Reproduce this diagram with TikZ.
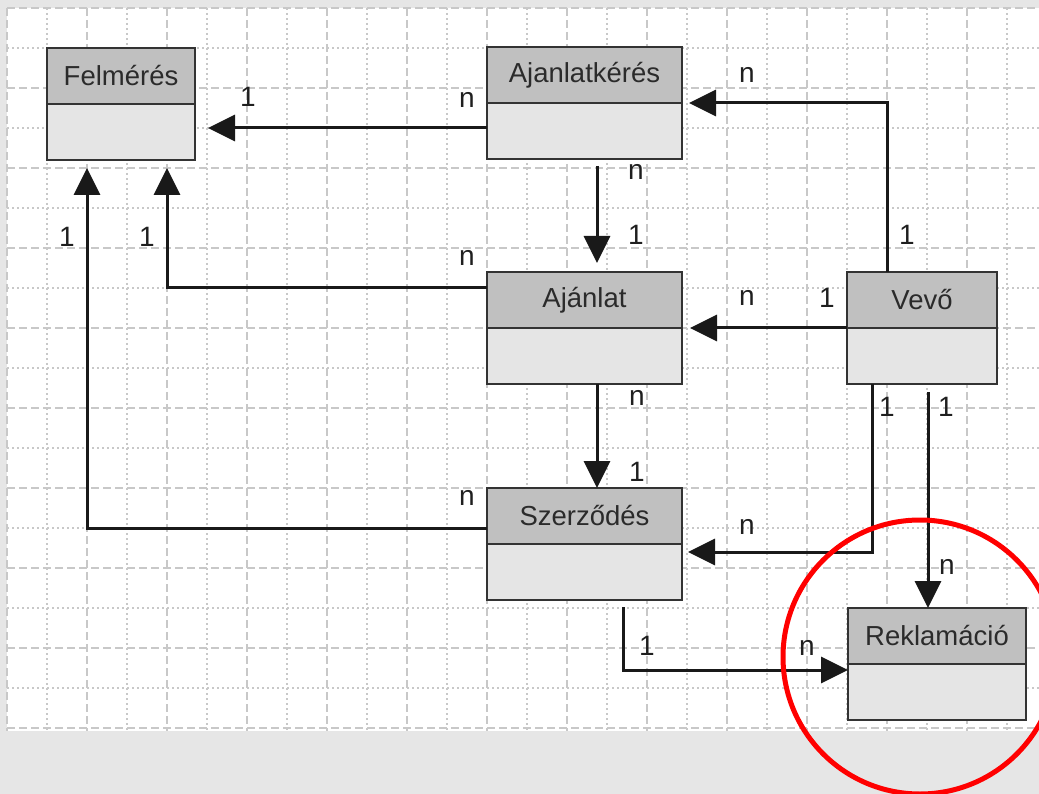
\documentclass[tikz,border=0pt]{standalone}
\usepackage{fontspec}
\setmainfont{Liberation Sans}
\usepackage{xcolor}
\usetikzlibrary{positioning,arrows.meta}

\definecolor{pagegray}{HTML}{E6E6E6}
\definecolor{gridgray}{HTML}{C8C8C8}
\definecolor{hdrgray}{HTML}{C0C0C0}
\definecolor{bodygray}{HTML}{E5E5E5}
\definecolor{boxline}{HTML}{333333}
\definecolor{boxtext}{HTML}{2B2B2B}

\begin{document}
\begin{tikzpicture}[x=1pt,y=-1pt,
    hdr/.style={draw=boxline, line width=2pt, fill=hdrgray, minimum height=56pt,
        inner sep=0pt, outer sep=0pt, font=\fontsize{27.5}{32}\selectfont, text=boxtext},
    body/.style={draw=boxline, line width=2pt, fill=bodygray, minimum height=56pt,
        inner sep=0pt, outer sep=0pt},
    link/.style={line width=3pt, black!90, -{Triangle[length=27pt,width=26pt]}},
    lbl/.style={font=\fontsize{28}{32}\selectfont, text=black!88, inner sep=0pt},
    gridmajor/.style={gridgray, line width=2pt, dash pattern=on 8pt off 4pt},
    gridminor/.style={gridgray, line width=1.5pt, dash pattern=on 2pt off 3pt}]

    \useasboundingbox (0,0) rectangle (1039,794);
    \clip (0,0) rectangle (1039,794);
    \fill[pagegray] (0,0) rectangle (1039,794);
    \fill[white] (7,8) rectangle (1039,731);
    \foreach \x in {47,127,...,1047} \draw[gridminor] (\x,8) -- (\x,731);
    \foreach \y in {48,128,...,688} \draw[gridminor] (7,\y) -- (1039,\y);
    \foreach \x in {7,87,...,1007} \draw[gridmajor] (\x,8) -- (\x,731);
    \foreach \y in {8,88,...,728} \draw[gridmajor] (7,\y) -- (1039,\y);

    \node[hdr, minimum width=148pt] (felm) at (121,76) {Felmérés};
    \node[body, minimum width=148pt, below=0pt of felm] (felm-b) {};
    \node[hdr, minimum width=195pt] (ajk) at (584.5,75) {Ajanlatkérés};
    \node[body, minimum width=195pt, below=0pt of ajk] (ajk-b) {};
    \node[hdr, minimum width=195pt] (ajl) at (584.5,300) {Ajánlat};
    \node[body, minimum width=195pt, below=0pt of ajl] (ajl-b) {};
    \node[hdr, minimum width=150pt] (vevo) at (922,300) {Vevő};
    \node[body, minimum width=150pt, below=0pt of vevo] (vevo-b) {};
    \node[hdr, minimum width=195pt] (szd) at (584.5,516) {Szerződés};
    \node[body, minimum width=195pt, below=0pt of szd] (szd-b) {};
    \node[hdr, minimum width=178pt] (rek) at (937,636) {Reklamáció};
    \node[body, minimum width=178pt, below=0pt of rek] (rek-b) {};

    \draw[link, shorten >=13pt] ([yshift=3pt]ajk-b.west) -- ([yshift=3pt]ajk-b.west -| felm-b.east);
    \draw[link, shorten <=7pt, shorten >=9pt] ([xshift=12.5pt]ajk-b.south) -- ([xshift=12.5pt]ajl.north);
    \draw[link, shorten >=7pt] ([xshift=-35pt]vevo.north) |- (ajk.south east);
    \draw[link, shorten >=8pt] ([yshift=12pt]ajl.west) -| ([xshift=46pt]felm-b.south);
    \draw[link, shorten >=8pt] (vevo.south west) -- (ajl.south east);
    \draw[link] ([xshift=12.5pt]ajl-b.south) -- ([xshift=12.5pt]szd.north);
    \draw[link, shorten >=8pt] ([yshift=-12pt]szd.west) -| ([xshift=-34pt]felm-b.south);
    \draw[link, shorten >=6pt] ([xshift=-50pt]vevo-b.south) |- ([yshift=-8pt]szd-b.north east);
    \draw[link, shorten <=8pt] ([xshift=6pt]vevo-b.south) -- ([xshift=-9pt]rek.north);
    \draw[link, shorten <=7pt] ([xshift=38.5pt]szd-b.south) |- ([yshift=22pt]rek-b.west);

    \node[lbl] (k1) at (248,97) {1};
    \node[lbl] (k2) at (467,100) {n};
    \node[lbl] (k3) at (747,75) {n};
    \node[lbl] (k4) at (636,172) {n};
    \node[lbl] (k5) at (636,235) {1};
    \node[lbl] (k6) at (907,235) {1};
    \node[lbl] (k7) at (67,237) {1};
    \node[lbl] (k8) at (147,237) {1};
    \node[lbl] (k9) at (467,258) {n};
    \node[lbl] (k10) at (747,298) {n};
    \node[lbl] (k11) at (827,298) {1};
    \node[lbl] (k12) at (887,407) {1};
    \node[lbl] (k13) at (946,407) {1};
    \node[lbl] (k14) at (637,398) {n};
    \node[lbl] (k15) at (637,472) {1};
    \node[lbl] (k16) at (467,498) {n};
    \node[lbl] (k17) at (747,527) {n};
    \node[lbl] (k18) at (947,567) {n};
    \node[lbl] (k19) at (647,646) {1};
    \node[lbl] (k20) at (807,648) {n};

    \draw[red, line width=5pt] (920,657) circle [radius=137pt];

\end{tikzpicture}
\end{document}
